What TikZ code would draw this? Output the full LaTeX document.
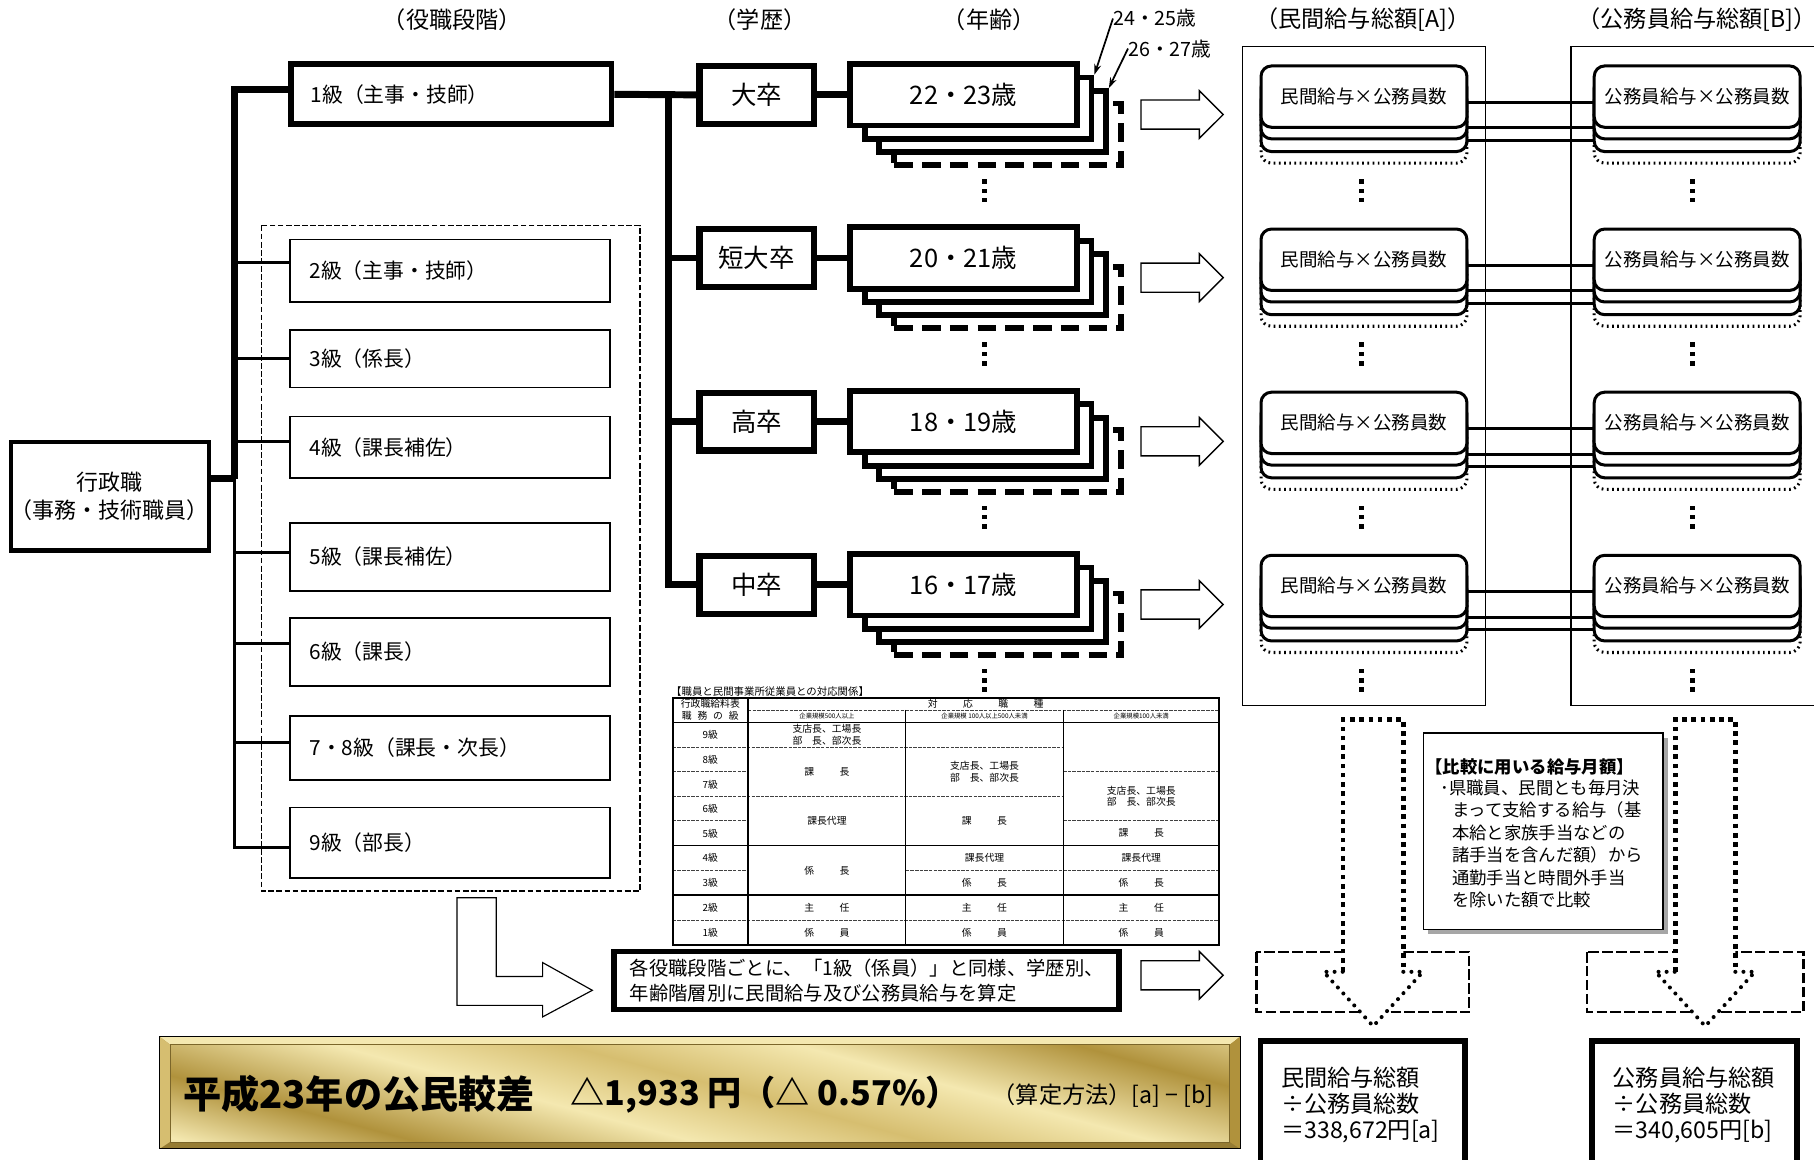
\documentclass[tikz,border=0pt]{standalone}
\usepackage{fontspec}
\setmainfont{Noto Sans CJK JP}
\usetikzlibrary{positioning,shapes.arrows,shadows,arrows.meta}

\definecolor{golddark}{RGB}{176,146,60}
\definecolor{goldlight}{RGB}{244,232,176}
\definecolor{goldmid}{RGB}{214,190,112}
\definecolor{goldedge}{RGB}{150,122,50}

\pgfdeclarehorizontalshading{goldstreak}{100bp}{%
  color(0bp)=(golddark); color(10bp)=(goldmid); color(20bp)=(goldlight);
  color(30bp)=(golddark); color(42bp)=(goldlight); color(52bp)=(goldmid);
  color(62bp)=(goldlight); color(74bp)=(golddark); color(86bp)=(goldlight);
  color(100bp)=(goldmid)}

\newcommand{\jsize}[1]{\fontsize{#1}{#1}\selectfont}
\newcommand{\tsp}[2]{#1\hspace{22pt}#2}

\tikzset{
  headtext/.style={font=\jsize{20}},
  gyobox/.style={draw, fill=white, line width=4pt, minimum width=166pt, minimum height=94pt, align=center, font=\fontsize{19}{24}\selectfont},
  gradebox/.style={draw, fill=white, line width=1.4pt, minimum width=277pt, text width=243pt, inner xsep=17pt, align=left, font=\jsize{18}},
  firstbox/.style={gradebox, line width=5pt, minimum height=52pt},
  groupline/.style={line width=1.4pt, dash pattern=on 5pt off 2pt},
  trunk/.style={line width=6pt},
  branch/.style={line width=2.6pt},
  edubox/.style={draw, fill=white, line width=5.5pt, minimum width=99pt, minimum height=50pt, font=\jsize{22}},
  agebox/.style={draw, fill=white, line width=5pt, minimum width=196pt, minimum height=53pt, font=\jsize{22}},
  agedash/.style={agebox, dash pattern=on 16pt off 8pt},
  agelabel/.style={font=\jsize{17}},
  pointer/.style={line width=1.5pt, -{Stealth[length=9pt,width=6pt]}},
  hollow/.style={single arrow, draw, fill=white, line width=1.2pt, inner xsep=0pt, inner ysep=12pt, minimum height=71pt, single arrow head extend=8pt},
  panel/.style={line width=1pt},
  sumbox/.style={draw, fill=white, rounded corners=9pt, line width=2.6pt, minimum width=178pt, minimum height=53pt, font=\jsize{16}},
  sumdots/.style={sumbox, dash pattern=on 1.5pt off 3pt},
  link/.style={line width=2.6pt},
  sqdots/.style={line width=4pt, dash pattern=on 4pt off 4pt},
  rddots/.style={line width=3.5pt, line cap=round, dash pattern=on 0pt off 7pt},
  grayrect/.style={line width=2pt, dash pattern=on 9pt off 3pt},
  notebox/.style={draw, fill=white, line width=1.3pt, minimum width=207pt, minimum height=170pt, drop shadow={shadow xshift=4pt, shadow yshift=-4pt, fill=gray!70, opacity=1}},
  notetext/.style={anchor=west, font=\jsize{15}},
  resbox/.style={draw, fill=white, line width=5pt, minimum width=177pt, minimum height=110pt, text width=141pt, inner xsep=18pt, align=left, font=\fontsize{20}{22.5}\selectfont},
  calcbox/.style={draw, fill=white, line width=5pt, minimum width=437pt, minimum height=50pt, text width=409pt, inner xsep=14pt, align=left, font=\fontsize{16.7}{22}\selectfont},
  bent/.style={draw, fill=white, line width=1pt},
  tabtext/.style={font=\fontsize{8.5}{10}\selectfont, align=center},
  tabtiny/.style={font=\jsize{5.5}},
  tabsolid/.style={line width=1pt},
  tabdash/.style={line width=0.8pt, black!75, dash pattern=on 3pt off 1pt},
}

\begin{document}
\begin{tikzpicture}[x=1pt, y=-1pt, every node/.style={inner sep=0pt}]
\useasboundingbox (0,0) rectangle (1568,1002);

% 見出し
\node[headtext] (hYaku) at (391,17) {（役職段階）};
\node[headtext] (hGaku) at (657,17) {（学歴）};
\node[headtext] (hNen) at (855,17) {（年齢）};
\node[headtext] (hMin) at (1178,17) {（民間給与総額[A]）};
\node[headtext] (hKou) at (1467,17) {（公務員給与総額[B]）};

% 行政職と役職段階
\node[gyobox] (gyo) at (95,429) {行政職\\（事務・技術職員）};
\draw[groupline] (226,195) rectangle (553,770);
\node[firstbox] (g1) at (390,81.5) {1級（主事・技師）};
\foreach \n/\y/\h/\t in {2/234/54pt/2級（主事・技師）,3/310/50pt/3級（係長）,4/386.5/53pt/4級（課長補佐）,
    5/481.5/59pt/5級（課長補佐）,6/563.5/59pt/6級（課長）,78/646.5/55pt/7・8級（課長・次長）,9/728.5/61pt/9級（部長）}
  \node[gradebox, minimum height=\h] (g\n) at (389,\y) {\t};

\coordinate (jk) at (203,414);
\draw[trunk] ([yshift=15pt]gyo.east) -- (jk);
\draw[trunk] (jk) |- ([yshift=4pt]g1.west);
\draw[branch] (jk) |- ([yshift=-4pt]g9.west);
\foreach \n/\s in {2/7pt,3/0pt,4/5pt,5/4pt,6/7pt,78/5pt} {
  \coordinate (p\n) at ([yshift=\s]g\n.west);
  \draw[branch] (p\n -| jk) -- (p\n);
}

% 学歴と年齢
\coordinate (et) at (578,82);
\foreach \n/\y/\t/\ag in {A/82/大卒/22・23歳, B/223/短大卒/20・21歳, C/364.5/高卒/18・19歳, D/505.5/中卒/16・17歳} {
  \node[edubox] (e\n) at (654,\y) {\t};
  \node[agedash] (age\n3) at (871,\y+34) {};
  \node[agebox] (age\n2) at (858,\y+23) {};
  \node[agebox] (age\n1) at (845.5,\y+11.5) {};
  \node[agebox] (age\n) at (833,\y) {\ag};
  \draw[trunk] (e\n.east) -- (age\n.west);
  \node[hollow] (arr\n) at (1015.5,\y+17) {};
}
\draw[trunk] (g1.east) -- (eA.west);
\draw[trunk] (et) |- (eD.west);
\draw[trunk] (et |- eB.west) -- (eB.west);
\draw[trunk] (et |- eC.west) -- (eC.west);

\node[agelabel, anchor=west] (l24) at (962,16) {24・25歳};
\node[agelabel, anchor=west] (l26) at (975,42) {26・27歳};
\draw[pointer] (l24.west) -- (ageA1.north east);
\draw[pointer] (l26.west) -- (ageA2.north east);

% 給与総額
\draw[panel] (1074,40) rectangle (1284,610);
\draw[panel] (1620,40) -| (1358,610) -- (1620,610);
\foreach \n/\y in {A/83.5,B/224.5,C/365.5,D/506.5} {
  \foreach \c/\x/\t in {m/1179/民間給与×公務員数,k/1467/公務員給与×公務員数} {
    \node[sumdots] (\c\n3) at (\x,\y+31) {};
    \node[sumbox] (\c\n2) at (\x,\y+21) {};
    \node[sumbox] (\c\n1) at (\x,\y+10) {};
    \node[sumbox] (\c\n) at (\x,\y) {\t};
  }
  \foreach \s in {5pt,27pt,38pt}
    \draw[link] ([yshift=-\s]m\n.east) -- ([yshift=-\s]k\n.west);
}

% 縦の点
\foreach \x in {851,1177,1463}
  \foreach \y in {157,298,439,580}
    \foreach \d in {0,8,16}
      \fill (\x-2,\y+\d-2) rectangle ++(4,4);

% 対応関係表
\node[anchor=west, font=\jsize{9}] (tabtitle) at (580,598) {【職員と民間事業所従業員との対応関係】};
\draw[tabdash] (646.5,613.7) -- (1054,613.7);
\draw[tabsolid] (581.6,624.3) -- (1054,624.3);
\draw[tabdash] (581.6,646) -- (919,646);
\draw[tabdash] (581.6,667) -- (646.5,667) (919,667) -- (1054,667);
\draw[tabdash] (581.6,688.6) -- (919,688.6);
\draw[tabdash] (581.6,709.6) -- (646.5,709.6) (919,709.6) -- (1054,709.6);
\draw[tabsolid] (581.6,731) -- (1054,731);
\draw[tabdash] (581.6,752.5) -- (646.5,752.5) (783,752.5) -- (1054,752.5);
\draw[tabsolid] (581.6,773.6) -- (1054,773.6);
\draw[tabdash] (581.6,795.2) -- (1054,795.2);
\draw[line width=0.7pt] (783,613.7) -- (783,816.7) (919,613.7) -- (919,816.7);
\draw[line width=1.6pt] (646.5,603) -- (646.5,816.7);
\draw[line width=1.6pt] (581.6,603) rectangle (1054,816.7);
\node[tabtext] (th1) at (614,608.3) {行政職給料表};
\node[tabtext] (th2) at (614,619) {職\hspace{5pt}務\hspace{5pt}の\hspace{5pt}級};
\node[tabtext] (th3) at (852,608.3) {対\hspace{22pt}応\hspace{22pt}職\hspace{22pt}種};
\node[tabtiny] (th4) at (714.8,619) {企業規模500人以上};
\node[tabtiny] (th5) at (851,619) {企業規模 100人以上500人未満};
\node[tabtiny] (th6) at (986.5,619) {企業規模100人未満};
\foreach \y/\t [count=\i] in {635/9級,656.5/8級,678/7級,699/6級,720.3/5級,741.8/4級,763/3級,784.4/2級,806/1級}
  \node[tabtext] (kyu\i) at (614,\y) {\t};
\foreach \x/\y/\t [count=\i] in {
    714.8/635/{支店長、工場長\\部　長、部次長}, 714.8/667.3/\tsp{課}{長}, 714.8/709.8/課長代理,
    714.8/752.3/\tsp{係}{長}, 714.8/784.4/\tsp{主}{任}, 714.8/806/\tsp{係}{員},
    851/667.3/{支店長、工場長\\部　長、部次長}, 851/709.8/\tsp{課}{長}, 851/741.8/課長代理,
    851/763/\tsp{係}{長}, 851/784.4/\tsp{主}{任}, 851/806/\tsp{係}{員},
    986.5/688.3/{支店長、工場長\\部　長、部次長}, 986.5/720.3/\tsp{課}{長}, 986.5/741.8/課長代理,
    986.5/763/\tsp{係}{長}, 986.5/784.4/\tsp{主}{任}, 986.5/806/\tsp{係}{員}}
  \node[tabtext] (cell\i) at (\x,\y) {\t};

% 算定の説明
\draw[bent] (395,776) -- (429,776) -- (429,844) -- (469,844) -- (469,832) -- (512,856)
  -- (469,879) -- (469,869) -- (395,869) -- cycle;
\node[calcbox] (calc) at (749,847.5) {各役職段階ごとに、「1級（係員）」と同様、学歴別、\\年齢階層別に民間給与及び公務員給与を算定};
\node[hollow] (arrE) at (1015.5,843) {};

% 下向きの矢印
\draw[grayrect] (1086,823) rectangle (1270,875);
\draw[grayrect] (1372,823) rectangle (1559,875);
\foreach \c in {1187,1474} {
  \fill[white] (\c-26,622) -- (\c+26,622) -- (\c+26,840) -- (\c+43,840) -- (\c,887)
    -- (\c-43,840) -- (\c-26,840) -- cycle;
  \draw[sqdots] (\c-26,840) -- (\c-26,622) -- (\c+26,622) -- (\c+26,840);
  \draw[rddots] (\c+26,840) -- (\c+43,840) -- (\c,887) -- (\c-43,840) -- (\c-26,840);
}

% 比較に用いる給与月額
\node[notebox] (hikaku) at (1334,718.5) {};
\node[notetext, font=\bfseries\jsize{15}] (hkT) at (1232,663) {【比較に用いる給与月額】};
\node[notetext] (hk0) at (1245,681) {･県職員、民間とも毎月決};
\foreach \t [count=\i] in {まって支給する給与（基,本給と家族手当などの,諸手当を含んだ額）から,通勤手当と時間外手当,を除いた額で比較}
  \node[notetext] (hk\i) at (1255,681+19.4*\i) {\t};

% 結果
\node[resbox] (resA) at (1178,955) {民間給与総額\\÷公務員総数\\＝338,672円[a]};
\node[resbox] (resB) at (1464.5,955) {公務員給与総額\\÷公務員総数\\＝340,605円[b]};

% 公民較差
\fill[goldedge] (138,896) rectangle (1072,993);
\fill[goldlight] (138,896) -- (1072,896) -- (1063,903) -- (147,903) -- cycle;
\fill[golddark!85!black] (138,993) -- (1072,993) -- (1063,987) -- (147,987) -- cycle;
\fill[goldmid] (138,896) -- (147,903) -- (147,987) -- (138,993) -- cycle;
\fill[golddark] (1072,896) -- (1063,903) -- (1063,987) -- (1072,993) -- cycle;
\shade[shading=goldstreak, shading angle=75] (147,903) rectangle (1063,987);
\draw[line width=1pt] (138,896) rectangle (1072,993);
\draw[line width=0.5pt, golddark!70!black] (147,903) rectangle (1063,987);
\node[anchor=west, font=\bfseries\jsize{33}] (kakusa) at (158,946) {平成23年の公民較差};
\node[anchor=west, font=\bfseries\jsize{29.5}] (kakusaV) at (493,946) {△1,933 円（△ 0.57\%）};
\node[anchor=west, font=\jsize{20}] (santei) at (858,947) {（算定方法）[a] − [b]};
\end{tikzpicture}
\end{document}
